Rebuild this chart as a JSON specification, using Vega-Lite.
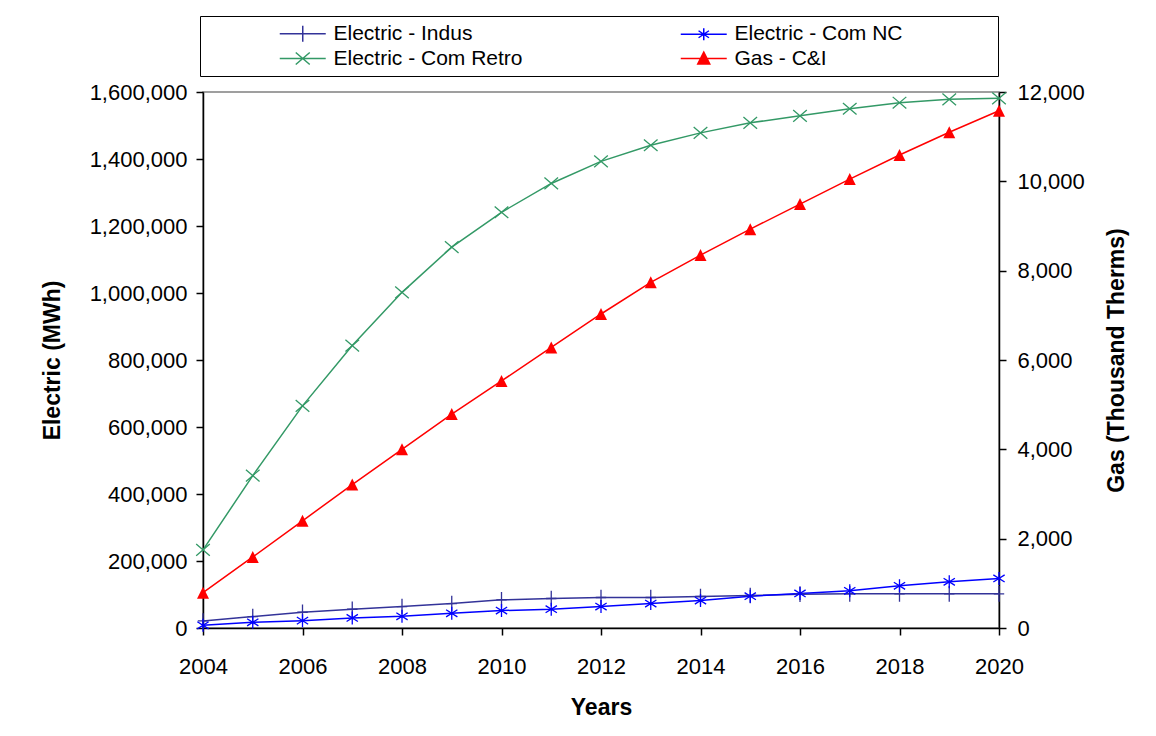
{
  "$schema": "https://vega.github.io/schema/vega-lite/v6.json",
  "autosize": {"type": "none"},
  "padding": {"left": 203, "top": 92, "right": 157, "bottom": 108},
  "width": 796,
  "height": 536,
  "background": "#ffffff",
  "datasets": {
    "d": [
      {"year": 2004, "series": "Electric - Indus", "value": 21000},
      {"year": 2005, "series": "Electric - Indus", "value": 34000},
      {"year": 2006, "series": "Electric - Indus", "value": 47000},
      {"year": 2007, "series": "Electric - Indus", "value": 56000},
      {"year": 2008, "series": "Electric - Indus", "value": 64000},
      {"year": 2009, "series": "Electric - Indus", "value": 73000},
      {"year": 2010, "series": "Electric - Indus", "value": 84000},
      {"year": 2011, "series": "Electric - Indus", "value": 88000},
      {"year": 2012, "series": "Electric - Indus", "value": 91000},
      {"year": 2013, "series": "Electric - Indus", "value": 91000},
      {"year": 2014, "series": "Electric - Indus", "value": 94000},
      {"year": 2015, "series": "Electric - Indus", "value": 97000},
      {"year": 2016, "series": "Electric - Indus", "value": 101000},
      {"year": 2017, "series": "Electric - Indus", "value": 102000},
      {"year": 2018, "series": "Electric - Indus", "value": 102000},
      {"year": 2019, "series": "Electric - Indus", "value": 102000},
      {"year": 2020, "series": "Electric - Indus", "value": 102000},
      {"year": 2004, "series": "Electric - Com NC", "value": 8000},
      {"year": 2005, "series": "Electric - Com NC", "value": 17000},
      {"year": 2006, "series": "Electric - Com NC", "value": 22000},
      {"year": 2007, "series": "Electric - Com NC", "value": 30000},
      {"year": 2008, "series": "Electric - Com NC", "value": 35000},
      {"year": 2009, "series": "Electric - Com NC", "value": 44000},
      {"year": 2010, "series": "Electric - Com NC", "value": 52000},
      {"year": 2011, "series": "Electric - Com NC", "value": 56000},
      {"year": 2012, "series": "Electric - Com NC", "value": 64000},
      {"year": 2013, "series": "Electric - Com NC", "value": 73000},
      {"year": 2014, "series": "Electric - Com NC", "value": 82000},
      {"year": 2015, "series": "Electric - Com NC", "value": 95000},
      {"year": 2016, "series": "Electric - Com NC", "value": 103000},
      {"year": 2017, "series": "Electric - Com NC", "value": 111000},
      {"year": 2018, "series": "Electric - Com NC", "value": 126000},
      {"year": 2019, "series": "Electric - Com NC", "value": 138000},
      {"year": 2020, "series": "Electric - Com NC", "value": 148000},
      {"year": 2004, "series": "Electric - Com Retro", "value": 233000},
      {"year": 2005, "series": "Electric - Com Retro", "value": 455000},
      {"year": 2006, "series": "Electric - Com Retro", "value": 663000},
      {"year": 2007, "series": "Electric - Com Retro", "value": 843000},
      {"year": 2008, "series": "Electric - Com Retro", "value": 1002000},
      {"year": 2009, "series": "Electric - Com Retro", "value": 1137000},
      {"year": 2010, "series": "Electric - Com Retro", "value": 1241000},
      {"year": 2011, "series": "Electric - Com Retro", "value": 1327000},
      {"year": 2012, "series": "Electric - Com Retro", "value": 1393000},
      {"year": 2013, "series": "Electric - Com Retro", "value": 1441000},
      {"year": 2014, "series": "Electric - Com Retro", "value": 1478000},
      {"year": 2015, "series": "Electric - Com Retro", "value": 1508000},
      {"year": 2016, "series": "Electric - Com Retro", "value": 1529000},
      {"year": 2017, "series": "Electric - Com Retro", "value": 1550000},
      {"year": 2018, "series": "Electric - Com Retro", "value": 1568000},
      {"year": 2019, "series": "Electric - Com Retro", "value": 1578000},
      {"year": 2020, "series": "Electric - Com Retro", "value": 1581000},
      {"year": 2004, "series": "Gas - C&I", "value": 790},
      {"year": 2005, "series": "Gas - C&I", "value": 1590},
      {"year": 2006, "series": "Gas - C&I", "value": 2400},
      {"year": 2007, "series": "Gas - C&I", "value": 3210},
      {"year": 2008, "series": "Gas - C&I", "value": 4000},
      {"year": 2009, "series": "Gas - C&I", "value": 4790},
      {"year": 2010, "series": "Gas - C&I", "value": 5530},
      {"year": 2011, "series": "Gas - C&I", "value": 6280},
      {"year": 2012, "series": "Gas - C&I", "value": 7030},
      {"year": 2013, "series": "Gas - C&I", "value": 7740},
      {"year": 2014, "series": "Gas - C&I", "value": 8350},
      {"year": 2015, "series": "Gas - C&I", "value": 8930},
      {"year": 2016, "series": "Gas - C&I", "value": 9490},
      {"year": 2017, "series": "Gas - C&I", "value": 10050},
      {"year": 2018, "series": "Gas - C&I", "value": 10590},
      {"year": 2019, "series": "Gas - C&I", "value": 11100},
      {"year": 2020, "series": "Gas - C&I", "value": 11580}
    ]
  },
  "data": {"name": "d"},
  "encoding": {
    "x": {
      "field": "year",
      "type": "quantitative",
      "scale": {"domain": [2004, 2020], "nice": false, "zero": false},
      "axis": {
        "values": [2004, 2006, 2008, 2010, 2012, 2014, 2016, 2018, 2020],
        "format": "d",
        "title": "Years",
        "labelFlush": false,
        "labelOverlap": false,
        "labelPadding": 21,
        "titlePadding": 19
      }
    },
    "color": {
      "field": "series",
      "type": "nominal",
      "scale": {
        "domain": ["Electric - Indus", "Electric - Com Retro", "Electric - Com NC", "Gas - C&I"],
        "range": ["#333399", "#339966", "#0000ff", "#ff0000"]
      },
      "legend": {
        "orient": "none",
        "legendX": -3,
        "legendY": -76,
        "columns": 2,
        "title": " ",
        "titleOrient": "left",
        "titleFontSize": 10,
        "titlePadding": 70,
        "padding": 7,
        "rowPadding": 2,
        "columnPadding": 154,
        "labelFont": "Liberation Sans",
        "labelFontSize": 21,
        "labelColor": "#000000",
        "labelLimit": 600,
        "labelOffset": 35.5,
        "strokeColor": "#000000",
        "fillColor": "#ffffff",
        "symbolSize": 196,
        "symbolStrokeWidth": 1.5,
        "symbolOpacity": 1,
        "labelExpr": "datum.label == 'Electric - Com NC' ? datum.label + '\u00a0\u00a0\u00a0\u00a0\u00a0\u00a0\u00a0\u00a0\u00a0\u00a0\u00a0\u00a0\u00a0\u00a0\u00a0\u200b' : datum.label",
        "encoding": {
          "symbols": {
            "shape": {"value": {"expr": "datum.value == 'Electric - Indus' ? 'M-1.107,0H5.464M2.179,-1.14V1.14' : datum.value == 'Electric - Com NC' ? 'M-1.107,0H5.464M2.179,-0.857V0.857M1.436,-0.5L2.922,0.5M1.436,0.5L2.922,-0.5' : datum.value == 'Electric - Com Retro' ? 'M-1.107,0H5.464M1.179,-0.857L3.179,0.857M1.179,0.857L3.179,-0.857' : 'M-1.107,0H5.464M2.179,-0.9L3.036,0.8L1.322,0.8Z'"}},
            "size": {"value": 196},
            "fill": {"value": {"expr": "datum.value == 'Gas - C&I' ? '#ff0000' : 'transparent'"}},
            "stroke": {"value": {"expr": "datum.value == 'Electric - Indus' ? '#333399' : datum.value == 'Electric - Com NC' ? '#0000ff' : datum.value == 'Electric - Com Retro' ? '#339966' : '#ff0000'"}},
            "strokeWidth": {"value": 1.5},
            "opacity": {"value": 1}
          }
        }
      }
    }
  },
  "layer": [
    {
      "transform": [{"filter": "datum.series != 'Gas - C&I'"}],
      "encoding": {
        "y": {
          "field": "value",
          "type": "quantitative",
          "scale": {"domain": [0, 1600000], "nice": false},
          "axis": {
            "orient": "left",
            "values": [0, 200000, 400000, 600000, 800000, 1000000, 1200000, 1400000, 1600000],
            "format": ",.0f",
            "title": "Electric (MWh)",
            "labelPadding": 9,
            "titlePadding": 25
          }
        }
      },
      "layer": [
        {"mark": {"type": "line", "strokeWidth": 1.5}},
        {
          "mark": {"type": "point", "filled": false, "strokeWidth": 1.3, "opacity": 1, "size": 169},
          "encoding": {
            "shape": {
              "field": "series",
              "type": "nominal",
              "scale": {
                "domain": ["Electric - Indus", "Electric - Com NC", "Electric - Com Retro"],
                "range": [
                  "M0,-1.2V1.2M-0.8,0H0.8",
                  "M0,-1V1M-0.87,-0.55L0.87,0.55M-0.87,0.55L0.87,-0.55",
                  "M-1.05,-0.9L1.05,0.9M-1.05,0.9L1.05,-0.9"
                ]
              },
              "legend": null
            }
          }
        }
      ]
    },
    {
      "transform": [{"filter": "datum.series == 'Gas - C&I'"}],
      "encoding": {
        "y": {
          "field": "value",
          "type": "quantitative",
          "scale": {"domain": [0, 12000], "nice": false},
          "axis": {
            "orient": "right",
            "values": [0, 2000, 4000, 6000, 8000, 10000, 12000],
            "format": ",.0f",
            "title": "Gas (Thousand Therms)",
            "titleAngle": 270,
            "titleBaseline": "top",
            "labelPadding": 11,
            "titlePadding": 21
          }
        }
      },
      "layer": [
        {"mark": {"type": "line", "strokeWidth": 1.5}},
        {"mark": {"type": "point", "filled": true, "shape": "M0,-1L1,1L-1,1Z", "size": 144, "opacity": 1}}
      ]
    }
  ],
  "resolve": {"scale": {"y": "independent"}, "axis": {"y": "independent"}},
  "config": {
    "view": {"stroke": "#808080", "strokeWidth": 1.5},
    "axis": {
      "labelFont": "Liberation Sans",
      "labelFontSize": 22,
      "labelColor": "#000000",
      "titleFont": "Liberation Sans",
      "titleFontSize": 23,
      "titleFontWeight": "bold",
      "titleColor": "#000000",
      "domainColor": "#000000",
      "domainWidth": 1.5,
      "tickColor": "#000000",
      "tickWidth": 1.5,
      "tickSize": 7,
      "grid": false
    }
  }
}
